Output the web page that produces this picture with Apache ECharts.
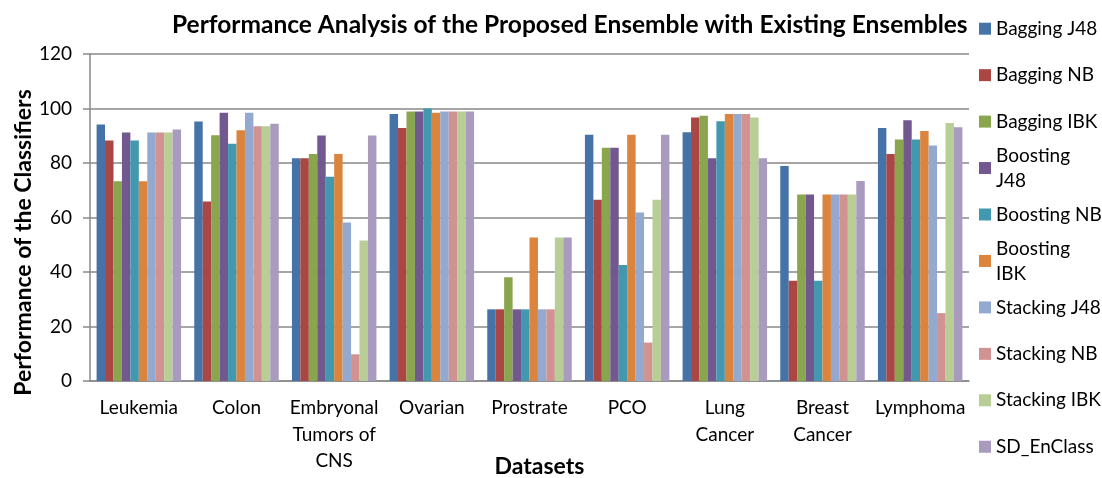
<!DOCTYPE html>
<html>
<head>
<meta charset="utf-8">
<script src="https://cdn.jsdelivr.net/npm/echarts@6/dist/echarts.min.js"></script>
<style>
html,body{margin:0;padding:0;background:#fff;}
#chart{width:1102px;height:478px;}
</style>
</head>
<body>
<div id="chart"></div>
<script>
const categories = ['Leukemia','Colon','Embryonal\nTumors of\nCNS','Ovarian','Prostrate','PCO','Lung\nCancer','Breast\nCancer','Lymphoma'];
const yTicks = [0,20,40,60,80,100,120];
const seriesNames = ['Bagging J48','Bagging NB','Bagging IBK','Boosting J48','Boosting NB','Boosting IBK','Stacking J48','Stacking NB','Stacking IBK','SD_EnClass'];
const baggingJ48   = [94.1, 95.2, 81.7, 98.0, 26.3, 90.4, 91.3, 78.9, 92.8];
const baggingNB    = [88.3, 65.9, 81.7, 92.8, 26.3, 66.5, 96.7, 36.8, 83.3];
const baggingIBK   = [73.3, 90.2, 83.3, 98.9, 38.1, 85.6, 97.3, 68.4, 88.6];
const boostingJ48  = [91.2, 98.4, 90.1, 98.9, 26.3, 85.6, 81.7, 68.4, 95.7];
const boostingNB   = [88.3, 87.1, 75.0, 100.0, 26.3, 42.6, 95.3, 36.8, 88.6];
const boostingIBK  = [73.3, 92.0, 83.3, 98.4, 52.7, 90.4, 98.0, 68.4, 91.7];
const stackingJ48  = [91.2, 98.4, 58.2, 98.9, 26.3, 61.8, 98.0, 68.4, 86.4];
const stackingNB   = [91.2, 93.5, 9.8, 98.9, 26.3, 14.1, 98.0, 68.4, 24.9];
const stackingIBK  = [91.2, 93.5, 51.6, 98.9, 52.7, 66.5, 96.7, 68.4, 94.7];
const sdEnClass    = [92.3, 94.4, 90.1, 98.9, 52.7, 90.4, 81.7, 73.4, 93.1];
const seriesValues = [baggingJ48, baggingNB, baggingIBK, boostingJ48, boostingNB, boostingIBK, stackingJ48, stackingNB, stackingIBK, sdEnClass];
const colors = ['#4572A7','#AA4643','#89A54E','#71588F','#4198AF','#DB843D','#93A9CF','#D19392','#B9CD96','#A99BBD'];

const FONT = 'Lato';
const wrapped = {'Boosting J48':'Boosting\nJ48','Boosting IBK':'Boosting\nIBK'};

const legends = seriesNames.map((n, i) => {
  const c = 28.7 + i * 46.45;
  const isWrap = !!wrapped[n];
  return {
    show: true,
    orient: 'vertical',
    left: 979,
    top: isWrap ? c - 37.5 : c - 12.5,
    padding: 0,
    itemWidth: 12,
    itemHeight: 12,
    icon: 'rect',
    selectedMode: false,
    formatter: (name) => wrapped[name] || name,
    data: [{
      name: n,
      textStyle: isWrap ? {padding: [25, 0, 0, 0]} : {}
    }],
    textStyle: {fontFamily: FONT, fontSize: 19, color: '#000', lineHeight: 25}
  };
});

const chart = echarts.init(document.getElementById('chart'), null, {renderer: 'canvas'});
chart.setOption({
  animation: false,
  color: colors,
  title: {
    text: 'Performance Analysis of the Proposed Ensemble with Existing Ensembles',
    left: 167, top: 8,
    textStyle: {fontFamily: FONT, fontSize: 24.5, fontWeight: 'bold', color: '#000'}
  },
  legend: legends,
  grid: {left: 90, right: 133, top: 54, bottom: 97, containLabel: false, outerBoundsMode: 'none'},
  xAxis: {
    type: 'category',
    data: categories,
    name: 'Datasets',
    nameLocation: 'middle',
    nameGap: 74,
    nameMoveOverlap: false,
    nameTextStyle: {fontFamily: FONT, fontSize: 23, fontWeight: 'bold', color: '#000', padding: [0, 0, 0, 20]},
    axisLine: {lineStyle: {color: '#898989', width: 1.5}},
    axisTick: {show: false},
    axisLabel: {fontFamily: FONT, fontSize: 19, color: '#000', lineHeight: 26.5, margin: 14, interval: 0}
  },
  yAxis: {
    type: 'value',
    min: 0, max: 120, interval: 20,
    name: 'Performance of the Classifiers',
    nameLocation: 'middle',
    nameGap: 55,
    nameRotate: 90,
    nameMoveOverlap: false,
    nameTextStyle: {fontFamily: FONT, fontSize: 23, fontWeight: 'bold', color: '#000', padding: [0, 50, 0, 0]},
    axisLine: {show: true, lineStyle: {color: '#898989', width: 1.5}},
    axisTick: {show: true, length: 7, lineStyle: {color: '#898989', width: 1.5}},
    splitLine: {lineStyle: {color: '#898989', width: 1.5}},
    axisLabel: {fontFamily: FONT, fontSize: 19, color: '#000', margin: 18,
      formatter: (v) => yTicks.includes(v) ? String(v) : ''}
  },
  series: seriesNames.map((n, i) => ({
    name: n,
    type: 'bar',
    data: seriesValues[i],
    barGap: '0%',
    barCategoryGap: '13.5%',
    itemStyle: {color: colors[i]}
  }))
});
</script>
</body>
</html>
